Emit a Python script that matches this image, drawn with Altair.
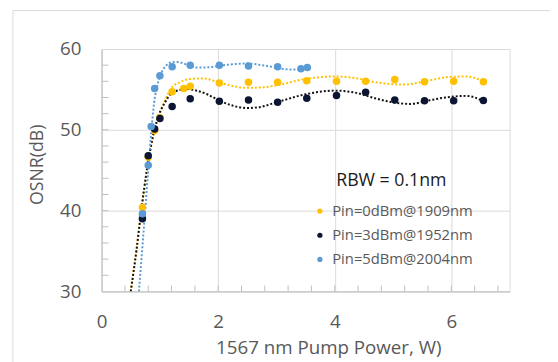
import altair as alt
import pandas as pd

# ---- series names / colours
series_names = ["Pin=0dBm@1909nm", "Pin=3dBm@1952nm", "Pin=5dBm@2004nm"]
series_colors = ["#FFC000", "#0c1633", "#5B9BD5"]
trend_colors = ["#FFC000", "#111111", "#5B9BD5"]

# ---- measured points
p0_x = [0.70, 0.80, 0.91, 1.00, 1.21, 1.41, 1.52, 2.02, 2.52, 3.02, 3.52, 4.03, 4.53, 5.03, 5.54, 6.04, 6.55]
p0_y = [40.4, 46.6, 49.9, 51.5, 54.7, 55.1, 55.4, 55.8, 55.9, 55.88, 56.08, 56.0, 56.0, 56.24, 55.96, 56.0, 55.96]

p3_x = [0.70, 0.80, 0.91, 1.00, 1.21, 1.52, 2.02, 2.52, 3.02, 3.52, 4.03, 4.53, 5.03, 5.54, 6.04, 6.55]
p3_y = [39.0, 46.8, 50.1, 51.4, 52.9, 53.84, 53.55, 53.7, 53.4, 53.9, 54.25, 54.65, 53.7, 53.6, 53.6, 53.64]

p5_x = [0.70, 0.80, 0.85, 0.91, 1.00, 1.21, 1.52, 2.02, 2.52, 3.02, 3.42, 3.53]
p5_y = [39.6, 45.6, 50.4, 55.1, 56.7, 57.8, 58.0, 58.0, 57.9, 57.8, 57.55, 57.7]

# ---- dotted trendlines
t0_x = [0.50, 0.60, 0.68, 0.78, 0.88, 0.96, 1.08, 1.19, 1.36, 1.53, 1.75, 1.98, 2.20, 2.49, 2.75, 3.00, 3.50, 4.00, 4.35, 4.69, 5.19, 5.59, 5.98, 6.26, 6.55]
t0_y = [30.0, 35.3, 40.0, 45.0, 49.0, 51.1, 53.5, 55.1, 55.95, 56.3, 56.35, 55.95, 55.5, 55.2, 55.25, 55.5, 56.3, 56.6, 56.4, 55.9, 55.6, 56.07, 56.55, 56.6, 56.0]

t3_x = [0.50, 0.60, 0.68, 0.78, 0.88, 0.95, 1.08, 1.20, 1.35, 1.47, 1.60, 1.81, 2.00, 2.20, 2.49, 2.70, 3.00, 3.50, 4.00, 4.35, 4.69, 5.00, 5.30, 5.59, 5.90, 6.26, 6.55]
t3_y = [30.0, 35.2, 40.0, 45.2, 49.2, 51.2, 53.3, 54.5, 54.95, 55.05, 54.9, 54.4, 53.7, 53.1, 52.7, 52.8, 53.4, 54.4, 54.85, 54.6, 53.9, 53.4, 53.2, 53.6, 54.0, 54.2, 53.55]

t5_x = [0.64, 0.70, 0.74, 0.80, 0.85, 0.90, 0.95, 1.00, 1.10, 1.20, 1.30, 1.45, 1.64, 1.85, 2.10, 2.49, 2.80, 3.16, 3.38, 3.53]
t5_y = [30.0, 35.5, 39.3, 45.0, 49.5, 53.3, 55.3, 56.6, 57.9, 58.35, 58.4, 58.1, 57.7, 57.75, 58.0, 58.2, 57.95, 57.5, 57.45, 57.5]

# ---- axes
x_ticks = [0, 2, 4, 6]
y_ticks = [30, 40, 50, 60]
x_minor = [0.4, 0.8, 1.2, 1.6, 2.0, 2.4, 2.8, 3.2, 3.6, 4.0, 4.4, 4.8, 5.2, 5.6, 6.0, 6.4, 6.8]
y_minor = [32, 34, 36, 38, 40, 42, 44, 46, 48, 50, 52, 54, 56, 58]

annotation = "RBW = 0.1nm"

W, H = 414, 246
FONT = "Open Sans"
GREY = "#595959"

pts = pd.concat([
    pd.DataFrame({"x": p0_x, "y": p0_y, "s": series_names[0], "o": 0}),
    pd.DataFrame({"x": p3_x, "y": p3_y, "s": series_names[1], "o": 1}),
    pd.DataFrame({"x": p5_x, "y": p5_y, "s": series_names[2], "o": 2}),
])
trends = pd.concat([
    pd.DataFrame({"x": t0_x, "y": t0_y, "s": series_names[0], "c": trend_colors[0]}),
    pd.DataFrame({"x": t3_x, "y": t3_y, "s": series_names[1], "c": trend_colors[1]}),
    pd.DataFrame({"x": t5_x, "y": t5_y, "s": series_names[2], "c": trend_colors[2]}),
])

xscale = alt.Scale(domain=[0, 7], nice=False, zero=False)
yscale = alt.Scale(domain=[30, 60], nice=False, zero=False)

xaxis = alt.Axis(values=x_ticks, format="d", labelFlush=False, grid=True, gridColor="#d9d9d9",
                 domainColor="#bfbfbf", ticks=False, labelFont=FONT, labelFontSize=19,
                 labelColor=GREY, labelPadding=22, title="1567 nm Pump Power, W)",
                 titleFont=FONT, titleFontSize=19, titleFontWeight="normal", titleColor=GREY,
                 titleX=230, titleY=57, titleBaseline="middle", titleAnchor="start",
                 titleAlign="center")
yaxis = alt.Axis(values=y_ticks, format="d", labelFlush=False, grid=True, gridColor="#d9d9d9",
                 domainColor="#bfbfbf", ticks=False, labelFont=FONT, labelFontSize=19,
                 labelColor=GREY, labelPadding=21, title="OSNR(dB)", titleFont=FONT,
                 titleFontSize=18, titleFontWeight="normal", titleColor=GREY, titleX=-65,
                 titleY=117, titleBaseline="middle", titleAlign="center", titleAnchor="start")

frame = alt.Chart(pd.DataFrame({"a": [0]})).mark_rect(
    fill=None, stroke="#d9d9d9", strokeWidth=1
).encode(x=alt.value(-90), x2=alt.value(480), y=alt.value(-39), y2=alt.value(400))

xt = alt.Chart(pd.DataFrame({"x": x_minor})).mark_rule(color="#bfbfbf", strokeWidth=1).encode(
    x=alt.X("x:Q", scale=xscale, axis=xaxis), y=alt.value(H), y2=alt.value(H - 6))
yt = alt.Chart(pd.DataFrame({"y": y_minor})).mark_rule(color="#bfbfbf", strokeWidth=1).encode(
    y=alt.Y("y:Q", scale=yscale, axis=yaxis), x=alt.value(0), x2=alt.value(7))

lines = alt.Chart(trends).mark_line(
    strokeDash=[2, 2], strokeWidth=2, interpolate="monotone", clip=True
).encode(
    x=alt.X("x:Q", scale=xscale),
    y=alt.Y("y:Q", scale=yscale),
    detail="s:N",
    color=alt.Color("c:N", scale=None),
)

points = alt.Chart(pts).mark_circle(size=58, opacity=1).encode(
    x=alt.X("x:Q", scale=xscale),
    y=alt.Y("y:Q", scale=yscale),
    color=alt.Color("s:N", scale=alt.Scale(domain=series_names, range=series_colors),
                    legend=alt.Legend(orient="none", legendX=214, legendY=157, title=None,
                                      labelFont=FONT, labelFontSize=15, labelColor=GREY,
                                      symbolSize=28, symbolType="circle", rowPadding=8.5,
                                      labelOffset=5, padding=0)),
    order="o:Q",
)

label = alt.Chart(pd.DataFrame({"t": [annotation]})).mark_text(
    font=FONT, fontSize=18, color="#1a1a1a", align="center", baseline="middle"
).encode(text="t:N", x=alt.value(294), y=alt.value(134))

chart = alt.layer(frame, xt, yt, lines, points, label).properties(
    width=W, height=H,
    autosize=alt.AutoSizeParams(type="none"),
    padding={"left": 95, "top": 39, "right": 41, "bottom": 69},
).configure_view(stroke=None).configure(background="white")

chart.save("out.html", embed_options={"renderer": "svg", "actions": False})
